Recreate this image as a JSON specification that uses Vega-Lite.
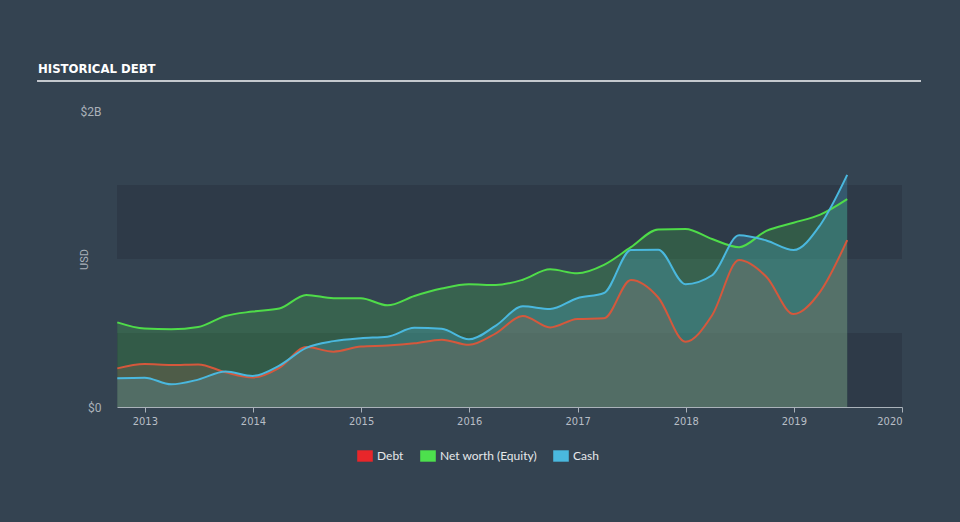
{
  "$schema": "https://vega.github.io/schema/vega-lite/v6.json",
  "width": 785,
  "height": 296,
  "autosize": {"type": "none"},
  "padding": {"left": 117, "top": 111, "right": 58, "bottom": 115},
  "background": "#344351",
  "config": {"view": {"stroke": null}, "font": "Roboto"},
  "title": {
    "text": "HISTORICAL DEBT",
    "anchor": "start",
    "frame": "group",
    "dx": -79,
    "offset": 4,
    "font": "DejaVu Sans Condensed",
    "fontWeight": "bold",
    "fontSize": 13,
    "color": "#ffffff"
  },
  "data": {
    "values": [
      {"date": "2012-09-30", "series": "Net worth (Equity)", "value": 572000000},
      {"date": "2012-12-31", "series": "Net worth (Equity)", "value": 530000000},
      {"date": "2013-03-31", "series": "Net worth (Equity)", "value": 525000000},
      {"date": "2013-06-30", "series": "Net worth (Equity)", "value": 540000000},
      {"date": "2013-09-30", "series": "Net worth (Equity)", "value": 615000000},
      {"date": "2013-12-31", "series": "Net worth (Equity)", "value": 645000000},
      {"date": "2014-03-31", "series": "Net worth (Equity)", "value": 665000000},
      {"date": "2014-06-30", "series": "Net worth (Equity)", "value": 757000000},
      {"date": "2014-09-30", "series": "Net worth (Equity)", "value": 735000000},
      {"date": "2014-12-31", "series": "Net worth (Equity)", "value": 735000000},
      {"date": "2015-03-31", "series": "Net worth (Equity)", "value": 687000000},
      {"date": "2015-06-30", "series": "Net worth (Equity)", "value": 750000000},
      {"date": "2015-09-30", "series": "Net worth (Equity)", "value": 800000000},
      {"date": "2015-12-31", "series": "Net worth (Equity)", "value": 829000000},
      {"date": "2016-03-31", "series": "Net worth (Equity)", "value": 824000000},
      {"date": "2016-06-30", "series": "Net worth (Equity)", "value": 860000000},
      {"date": "2016-09-30", "series": "Net worth (Equity)", "value": 930000000},
      {"date": "2016-12-31", "series": "Net worth (Equity)", "value": 903000000},
      {"date": "2017-03-31", "series": "Net worth (Equity)", "value": 960000000},
      {"date": "2017-06-30", "series": "Net worth (Equity)", "value": 1080000000},
      {"date": "2017-09-30", "series": "Net worth (Equity)", "value": 1200000000},
      {"date": "2017-12-31", "series": "Net worth (Equity)", "value": 1203000000},
      {"date": "2018-03-31", "series": "Net worth (Equity)", "value": 1135000000},
      {"date": "2018-06-30", "series": "Net worth (Equity)", "value": 1080000000},
      {"date": "2018-09-30", "series": "Net worth (Equity)", "value": 1190000000},
      {"date": "2018-12-31", "series": "Net worth (Equity)", "value": 1245000000},
      {"date": "2019-03-31", "series": "Net worth (Equity)", "value": 1300000000},
      {"date": "2019-06-30", "series": "Net worth (Equity)", "value": 1405000000},
      {"date": "2012-09-30", "series": "Cash", "value": 194000000},
      {"date": "2012-12-31", "series": "Cash", "value": 198000000},
      {"date": "2013-03-31", "series": "Cash", "value": 153000000},
      {"date": "2013-06-30", "series": "Cash", "value": 185000000},
      {"date": "2013-09-30", "series": "Cash", "value": 240000000},
      {"date": "2013-12-31", "series": "Cash", "value": 210000000},
      {"date": "2014-03-31", "series": "Cash", "value": 280000000},
      {"date": "2014-06-30", "series": "Cash", "value": 400000000},
      {"date": "2014-09-30", "series": "Cash", "value": 445000000},
      {"date": "2014-12-31", "series": "Cash", "value": 465000000},
      {"date": "2015-03-31", "series": "Cash", "value": 475000000},
      {"date": "2015-06-30", "series": "Cash", "value": 535000000},
      {"date": "2015-09-30", "series": "Cash", "value": 528000000},
      {"date": "2015-12-31", "series": "Cash", "value": 457000000},
      {"date": "2016-03-31", "series": "Cash", "value": 550000000},
      {"date": "2016-06-30", "series": "Cash", "value": 680000000},
      {"date": "2016-09-30", "series": "Cash", "value": 662000000},
      {"date": "2016-12-31", "series": "Cash", "value": 735000000},
      {"date": "2017-03-31", "series": "Cash", "value": 770000000},
      {"date": "2017-06-30", "series": "Cash", "value": 1060000000},
      {"date": "2017-09-30", "series": "Cash", "value": 1063000000},
      {"date": "2017-12-31", "series": "Cash", "value": 830000000},
      {"date": "2018-03-31", "series": "Cash", "value": 890000000},
      {"date": "2018-06-30", "series": "Cash", "value": 1160000000},
      {"date": "2018-09-30", "series": "Cash", "value": 1125000000},
      {"date": "2018-12-31", "series": "Cash", "value": 1060000000},
      {"date": "2019-03-31", "series": "Cash", "value": 1230000000},
      {"date": "2019-06-30", "series": "Cash", "value": 1568000000},
      {"date": "2012-09-30", "series": "Debt", "value": 261000000},
      {"date": "2012-12-31", "series": "Debt", "value": 290000000},
      {"date": "2013-03-31", "series": "Debt", "value": 284000000},
      {"date": "2013-06-30", "series": "Debt", "value": 288000000},
      {"date": "2013-09-30", "series": "Debt", "value": 235000000},
      {"date": "2013-12-31", "series": "Debt", "value": 200000000},
      {"date": "2014-03-31", "series": "Debt", "value": 265000000},
      {"date": "2014-06-30", "series": "Debt", "value": 405000000},
      {"date": "2014-09-30", "series": "Debt", "value": 374000000},
      {"date": "2014-12-31", "series": "Debt", "value": 408000000},
      {"date": "2015-03-31", "series": "Debt", "value": 415000000},
      {"date": "2015-06-30", "series": "Debt", "value": 430000000},
      {"date": "2015-09-30", "series": "Debt", "value": 455000000},
      {"date": "2015-12-31", "series": "Debt", "value": 420000000},
      {"date": "2016-03-31", "series": "Debt", "value": 498000000},
      {"date": "2016-06-30", "series": "Debt", "value": 615000000},
      {"date": "2016-09-30", "series": "Debt", "value": 538000000},
      {"date": "2016-12-31", "series": "Debt", "value": 595000000},
      {"date": "2017-03-31", "series": "Debt", "value": 599000000},
      {"date": "2017-06-30", "series": "Debt", "value": 858000000},
      {"date": "2017-09-30", "series": "Debt", "value": 740000000},
      {"date": "2017-12-31", "series": "Debt", "value": 441000000},
      {"date": "2018-03-31", "series": "Debt", "value": 620000000},
      {"date": "2018-06-30", "series": "Debt", "value": 993000000},
      {"date": "2018-09-30", "series": "Debt", "value": 880000000},
      {"date": "2018-12-31", "series": "Debt", "value": 628000000},
      {"date": "2019-03-31", "series": "Debt", "value": 780000000},
      {"date": "2019-06-30", "series": "Debt", "value": 1128000000}
    ]
  },
  "layer": [
    {
      "mark": {"type": "rect", "fill": "#2e3a48"},
      "encoding": {
        "y": {"datum": 0, "type": "quantitative", "scale": {"domain": [0, 2000000000]}, "axis": {"values": [0, 2000000000], "labelExpr": "datum.value == 0 ? '$0' : '$2B'", "domain": false, "ticks": false, "grid": false, "labelPadding": 16, "labelFont": "Roboto", "labelFontSize": 12, "labelColor": "#aab1b9", "title": "USD", "titleFont": "Roboto", "titleFontSize": 11, "titleFontWeight": "normal", "titleColor": "#aab1b9", "titleX": -33, "titleY": 148, "titleAlign": "center", "titleBaseline": "middle", "titleAngle": -90}},
        "y2": {"datum": 500000000}
      }
    },
    {
      "mark": {"type": "rect", "fill": "#2e3a48"},
      "encoding": {
        "y": {"datum": 1000000000, "type": "quantitative", "scale": {"domain": [0, 2000000000]}},
        "y2": {"datum": 1500000000}
      }
    },
    {
      "mark": {"type": "rule", "stroke": "#c4c9ce", "strokeWidth": 2, "clip": false},
      "encoding": {
        "x": {"datum": {"year": 2012, "month": 1, "date": 6}, "type": "temporal", "scale": {"domain": ["2012-09-29", "2020-01-01"]}},
        "x2": {"datum": {"year": 2020, "month": 3, "date": 5}},
        "y": {"datum": 2202700000, "type": "quantitative", "scale": {"domain": [0, 2000000000]}}
      }
    },
    {
      "transform": [{"filter": "datum.series == 'Net worth (Equity)'"}],
      "mark": {"type": "area", "interpolate": "monotone", "fill": "#4de04d", "fillOpacity": 0.2},
      "encoding": {
        "x": {"field": "date", "type": "temporal", "scale": {"domain": ["2012-09-29", "2020-01-01"]}, "axis": {"tickCount": {"interval": "year", "step": 1}, "format": "%Y", "grid": false, "domainColor": "#aab2ba", "tickColor": "#aab2ba", "tickSize": 5, "labelPadding": 3, "labelFont": "DejaVu Sans Condensed", "labelFontSize": 11, "labelColor": "#b8bec6", "title": null}},
        "y": {"field": "value", "type": "quantitative", "stack": null, "scale": {"domain": [0, 2000000000]}}
      }
    },
    {
      "transform": [{"filter": "datum.series == 'Cash'"}],
      "mark": {"type": "area", "interpolate": "monotone", "fill": "#4ab8de", "fillOpacity": 0.25},
      "encoding": {
        "x": {"field": "date", "type": "temporal", "scale": {"domain": ["2012-09-29", "2020-01-01"]}},
        "y": {"field": "value", "type": "quantitative", "stack": null, "scale": {"domain": [0, 2000000000]}}
      }
    },
    {
      "transform": [{"filter": "datum.series == 'Debt'"}],
      "mark": {"type": "area", "interpolate": "monotone", "fill": "#a8604a", "fillOpacity": 0.23},
      "encoding": {
        "x": {"field": "date", "type": "temporal", "scale": {"domain": ["2012-09-29", "2020-01-01"]}},
        "y": {"field": "value", "type": "quantitative", "stack": null, "scale": {"domain": [0, 2000000000]}}
      }
    },
    {
      "transform": [{"filter": "datum.series == 'Debt'"}],
      "mark": {"type": "line", "interpolate": "monotone", "stroke": "#d5583c", "strokeWidth": 2},
      "encoding": {
        "x": {"field": "date", "type": "temporal", "scale": {"domain": ["2012-09-29", "2020-01-01"]}},
        "y": {"field": "value", "type": "quantitative", "scale": {"domain": [0, 2000000000]}}
      }
    },
    {
      "transform": [{"filter": "datum.series == 'Net worth (Equity)'"}],
      "mark": {"type": "line", "interpolate": "monotone", "stroke": "#4fdc49", "strokeWidth": 2},
      "encoding": {
        "x": {"field": "date", "type": "temporal", "scale": {"domain": ["2012-09-29", "2020-01-01"]}},
        "y": {"field": "value", "type": "quantitative", "scale": {"domain": [0, 2000000000]}}
      }
    },
    {
      "transform": [{"filter": "datum.series == 'Cash'"}],
      "mark": {"type": "line", "interpolate": "monotone", "stroke": "#4ab8de", "strokeWidth": 2},
      "encoding": {
        "x": {"field": "date", "type": "temporal", "scale": {"domain": ["2012-09-29", "2020-01-01"]}},
        "y": {"field": "value", "type": "quantitative", "scale": {"domain": [0, 2000000000]}}
      }
    },
    {
      "mark": {"type": "point", "filled": true, "opacity": 0},
      "encoding": {
        "x": {"field": "date", "type": "temporal", "scale": {"domain": ["2012-09-29", "2020-01-01"]}},
        "y": {"field": "value", "type": "quantitative", "scale": {"domain": [0, 2000000000]}},
        "color": {
          "field": "series",
          "type": "nominal",
          "scale": {"domain": ["Debt", "Net worth (Equity)", "Cash"], "range": ["#e8262a", "#4de04d", "#4ab8de"]},
          "legend": {
            "orient": "none",
            "legendX": 242,
            "legendY": 339,
            "direction": "horizontal",
            "title": null,
            "symbolType": "M-1.3,-0.95H1.3V0.95H-1.3Z",
            "symbolSize": 144,
            "symbolOpacity": 1,
            "symbolStrokeWidth": 0,
            "labelFont": "Lato",
            "labelFontSize": 12,
            "labelColor": "#e6e8ea",
            "labelOffset": 6,
            "columnPadding": 16
          }
        }
      }
    }
  ]
}
